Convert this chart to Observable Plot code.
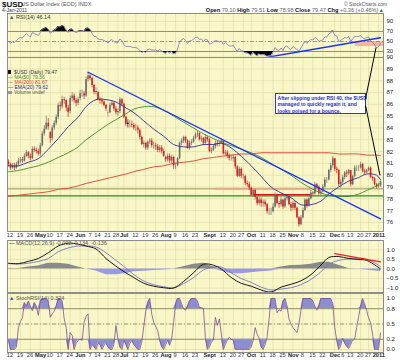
<!DOCTYPE html>
<html><head><meta charset="utf-8">
<script src="https://cdn.jsdelivr.net/npm/d3@7"></script>
<script src="https://cdn.jsdelivr.net/npm/@observablehq/plot@0.6"></script>
<style>
body{margin:0;background:#fff;font-family:"Liberation Sans",Arial,sans-serif;}
#c{position:relative;width:400px;height:360px;overflow:hidden;background:#fff;}
#c svg{position:absolute;left:0;}
.t{position:absolute;white-space:nowrap;line-height:1;}
</style></head><body><div id="c"></div><script>
// ---------------- DATA ----------------
const startDate = "2010-04-09";
const holidays = ["2010-05-31","2010-07-05","2010-09-06","2010-11-25","2010-12-24"];
// daily OHLC, one row per week
const closes = [
 80.9,
 80.6,80.8,80.6,80.9,81.2, 81.3,81.2,81.6,81.9,81.6, 81.4,82.2,82.1,82.0,81.8,
 82.5,83.5,83.9,84.4,84.1, 83.1,84.0,84.4,84.9,85.9, 85.8,86.4,86.3,85.7,85.3,
 86.5,86.7,86.3,86.1,86.4, 86.9,86.9,86.7,88.1, 88.4,88.2,87.6,87.0,87.1,
 86.4,86.3,86.2,85.9,85.6, 85.3,85.9,86.1,85.6,85.3, 85.4,86.4,86.0,84.9,84.3,
 84.3,84.3,84.2,84.0, 84.0,83.8,83.2,82.6,82.7, 82.3,82.8,82.9,82.5,82.5,
 82.4,82.1,82.3,82.0,81.6, 81.3,81.6,81.2,81.5,80.8, 80.8,81.4,82.7,82.9,83.2,
 82.9,82.3,82.7,82.8,83.1, 83.4,83.5,83.0,83.1,82.7, 83.2,83.0,82.0,82.1,82.4,
 82.7,82.6,82.7,82.9, 81.8,81.9,81.6,81.4,81.4, 81.5,80.7,79.9,80.5,79.9,
 79.9,79.3,79.2,78.9,78.3, 78.7,78.1,77.6,77.9,77.6, 77.7,77.5,76.9,76.9,76.9,
 77.3,78.3,77.6,77.5,77.9, 77.3,78.0,78.1,77.5,77.2, 77.6,77.2,76.4,75.8,76.4,
 77.0,77.9,77.4,78.0,78.5, 78.4,79.2,79.0,78.4,78.6, 79.0,79.6,79.6,80.4,
 80.8,81.4,80.5,80.4,79.2, 79.4,79.8,80.2,80.1,80.4, 79.2,79.9,80.6,80.6,80.6,
 80.9,80.3,80.2,80.4, 80.6,79.8,79.7,79.2,79.0, 79.11,79.47
];
const opens = [
 81.1,
 80.9,80.6,80.8,80.6,80.9, 81.2,81.3,81.2,81.6,81.9, 81.6,81.4,82.2,82.1,82.0,
 81.8,82.5,83.5,83.9,84.4, 83.6,83.1,84.0,84.4,84.9, 85.9,85.8,86.4,86.3,85.7,
 85.4,86.5,86.7,86.3,86.1, 86.5,86.9,86.9,86.7, 88.1,88.4,88.2,87.6,87.0,
 87.0,86.4,86.3,86.2,85.9, 85.2,85.3,85.9,86.1,85.6, 85.3,85.4,86.4,86.0,84.9,
 84.4,84.3,84.3,84.2, 84.0,84.0,83.8,83.2,82.6, 82.7,82.3,82.8,82.9,82.5,
 82.5,82.4,82.1,82.3,82.0, 81.5,81.3,81.6,81.2,81.5, 80.8,80.8,81.4,82.7,82.9,
 83.2,82.9,82.3,82.7,82.8, 83.1,83.4,83.5,83.0,83.1, 82.7,83.2,83.0,82.0,82.1,
 82.4,82.7,82.6,82.7, 82.9,81.8,81.9,81.6,81.4, 81.4,81.5,80.7,79.9,80.5,
 79.9,79.9,79.3,79.2,78.9, 78.3,78.7,78.1,77.6,77.9, 77.6,77.7,77.5,76.9,76.9,
 76.9,77.3,78.3,77.6,77.5, 77.9,77.3,78.0,78.1,77.5, 77.2,77.6,77.2,76.4,75.8,
 76.4,77.0,77.9,77.4,78.0, 78.5,78.4,79.2,79.0,78.4, 78.6,79.0,79.6,79.6,
 80.4,80.8,81.4,80.5,80.4, 79.2,79.4,79.8,80.2,80.1, 80.4,79.2,79.9,80.6,80.6,
 80.6,80.9,80.3,80.2, 80.4,80.6,79.8,79.7,79.2, 79.0,79.10
];
const highs = [
 81.3,
 81.0,81.0,81.0,81.1,81.4, 81.5,81.5,81.8,82.1,82.0, 81.8,82.4,82.4,82.3,82.2,
 82.7,83.7,84.2,85.0,84.8, 83.7,84.2,84.6,85.1,86.1, 86.2,86.7,86.6,86.4,85.9,
 86.7,87.0,86.9,86.5,86.6, 87.2,87.2,87.1,88.3, 88.7,88.5,88.3,87.7,87.4,
 87.1,86.6,86.5,86.3,86.0, 85.5,86.1,86.3,86.2,85.8, 85.6,86.6,86.5,86.1,85.0,
 84.7,84.6,84.6,84.4, 84.3,84.2,83.9,83.3,82.9, 82.8,82.9,83.1,83.1,82.8,
 82.7,82.6,82.5,82.5,82.2, 81.6,81.8,81.8,81.7,81.6, 81.0,81.5,82.8,83.1,83.3,
 83.3,83.0,82.9,83.0,83.3, 83.6,83.7,83.6,83.3,83.2, 83.4,83.3,83.1,82.3,82.6,
 82.9,82.9,82.9,83.1, 82.9,82.1,82.1,81.8,81.7, 81.7,81.6,80.8,80.7,80.6,
 80.1,80.0,79.5,79.4,79.0, 78.8,78.8,78.2,78.1,78.1, 77.9,77.9,77.6,77.2,77.2,
 77.6,78.5,78.4,77.8,78.1, 77.9,78.2,78.3,78.2,77.7, 77.8,77.8,77.3,76.5,76.6,
 77.2,78.0,78.0,78.2,78.7, 78.6,79.4,79.3,79.1,78.7, 79.2,79.8,79.8,80.5,
 81.0,81.6,81.4,80.7,80.5, 79.6,80.0,80.3,80.4,80.5, 80.4,80.0,80.8,80.8,80.8,
 81.1,81.0,80.5,80.5, 80.7,80.7,79.9,79.8,79.3, 79.3,79.51
];
const lows = [
 80.7,
 80.4,80.5,80.4,80.5,80.7, 81.0,81.0,81.1,81.5,81.4, 81.2,81.3,81.9,81.8,81.6,
 81.6,82.4,83.3,83.8,83.8, 82.7,82.9,83.8,84.2,84.7, 85.4,85.6,86.0,85.4,84.9,
 85.2,86.2,86.1,85.8,85.9, 86.3,86.6,86.4,86.6, 87.9,88.0,87.4,86.8,86.8,
 86.3,86.0,86.0,85.8,85.4, 84.9,85.2,85.8,85.4,85.1, 85.0,85.2,85.8,84.8,84.1,
 84.0,84.0,84.0,83.8, 83.7,83.5,83.0,82.5,82.3, 82.1,82.1,82.6,82.3,82.2,
 82.1,81.9,81.9,81.8,81.5, 81.1,81.1,81.0,81.0,80.5, 80.5,80.7,81.3,82.5,82.7,
 82.7,82.2,82.1,82.5,82.7, 83.0,83.2,82.9,82.8,82.5, 82.6,82.8,81.9,81.8,82.0,
 82.2,82.4,82.4,82.6, 81.7,81.6,81.4,81.2,81.2, 81.1,80.5,79.8,79.8,79.7,
 79.6,79.1,79.0,78.7,78.2, 78.1,77.9,77.4,77.4,77.3, 77.3,77.3,76.7,76.6,76.6,
 76.8,77.2,77.5,77.2,77.3, 77.1,77.2,77.8,77.4,76.9, 77.0,77.0,76.3,75.6,75.7,
 76.3,76.9,77.2,77.3,77.9, 78.2,78.3,78.8,78.3,78.2, 78.5,78.9,79.3,79.5,
 80.2,80.6,80.3,80.1,79.0, 78.9,79.2,79.6,79.8,80.0, 79.0,79.1,79.8,80.3,80.3,
 80.5,80.2,80.0,80.1, 80.3,79.7,79.5,79.1,78.8, 78.9,78.98
];
// RSI(14), daily
const rsi14 = [
 50,
 47,49,48,52,56, 58,57,62,66,62, 59,68,66,64,62, 68,74,76,78,74, 66,70,72,75,80,
 79,82,80,72,68, 74,75,70,68,70, 72,72,70,76, 77,74,66,60,60, 55,54,54,52,50,
 47,52,54,50,47, 48,55,52,44,40, 40,40,39,38, 38,36,32,28,30, 28,34,35,33,33,
 33,31,34,31,28, 26,30,27,30,25, 26,35,50,53,56, 52,46,51,52,55, 58,59,54,55,50,
 55,53,45,46,49, 52,51,49,51, 44,48,44,41,41, 42,36,30,36,31, 31,27,27,25,22,
 28,24,21,25,23, 24,23,20,21,21, 28,38,33,32,37, 32,40,41,36,34, 40,37,34,31,37,
 44,50,46,51,54, 53,58,56,50,52, 53,59,59,65, 68,71,62,61,50, 52,55,58,57,60,
 50,55,60,60,60, 62,57,56,58, 59,52,48,44,37, 40,46.14
];
// StochRSI(14), daily
const stochRsi = [
 0.18,0.0,0.0,0.0,0.05,0.43,0.55,0.62,0.92,0.85,
 0.95,0.85,0.76,0.92,0.85,0.67,0.95,1,1,1,
 0.95,0.63,0.7,0.75,0.85,1,1,0.95,0.6,0.43,
 0.0,0.33,0.28,0.0,0.12,0.18,0.2,0.18,0.53,0.65,
 0.7,0.0,0.1,0.05,0.0,0.12,0.1,0.0,0.08,0.12,
 0.05,0.0,0.0,0.1,0.47,0.2,0.05,0.0,0.18,0.1,
 0.0,0.12,0.18,0.1,0.05,0.0,0.0,0.15,0.45,0.75,
 0.92,1.0,0.7,0.53,0.45,0.37,0.18,0.05,0.0,0.1,
 0.18,0.08,0.2,0.53,0.9,1.0,1.0,0.9,0.8,0.77,
 0.85,0.95,1.0,1.0,1.0,0.95,0.82,0.82,0.8,0.22,
 0.0,0.05,0.15,0.18,0.63,0.47,0.6,0.3,0.0,0.1,
 0.18,0.24,0.2,0.18,0.0,0.0,0.0,0.0,0.0,0.0,
 0.0,0.0,0.05,0.18,0.43,0.3,0.22,0.05,0.0,0.1,
 0.24,0.6,1.0,1.0,1.0,0.72,0.78,0.75,0.95,1.0,
 0.85,0.6,0.5,0.43,0.38,0.33,0.5,0.77,1.0,1.0,
 1.0,1.0,1.0,0.95,0.85,0.77,0.85,1.0,1.0,1.0,
 1.0,1.0,1.0,0.9,0.43,0.18,0.0,0.08,0.22,0.12,
 0.06,0.02,0.1,0.18,0.2,0.43,0.65,0.85,1.0,0.9,
 0.77,0.62,0.53,0.3,0.0,0.0,0.0,0.324
];
// weekly (last trading day of each week)
const ema20 = [80.8,80.8,81.1,81.4,82.2,83.1,84.1,84.9,85.8,86.4,86.4,86.2,85.7,85.3,84.6,83.9,83.3,82.6,82.4,82.4,
 82.6,82.6,82.7,82.3,81.6,80.8,79.9,79.0,78.5,78.1,77.5,77.5,77.8,78.4,79.0,79.5,79.8,80.1,80.0,79.62];
const ma50 = [80.3,80.4,80.6,80.8,81.1,81.5,81.9,82.4,83.0,83.6,84.2,84.7,85.2,85.6,85.8,85.8,85.5,85.0,84.5,84.0,
 83.5,83.1,82.8,82.5,82.2,81.9,81.5,81.0,80.5,80.0,79.4,78.9,78.5,78.3,78.2,78.2,78.4,78.7,79.1,79.36];
const ma200 = [78.2,78.3,78.4,78.5,78.6,78.8,78.9,79.1,79.3,79.5,79.7,79.9,80.1,80.3,80.5,80.7,80.8,81.0,81.1,81.2,
 81.4,81.5,81.6,81.7,81.8,81.8,81.9,81.9,81.9,81.9,81.9,81.9,81.9,81.9,81.8,81.8,81.8,81.7,81.7,81.67];
const macdLine = [0.30,0.28,0.40,0.55,0.85,1.20,1.35,1.30,1.20,1.05,0.55,0.15,-0.20,-0.45,-0.75,-0.90,-0.98,-1.00,-0.65,-0.20,
 0.25,0.20,0.00,-0.45,-0.75,-0.90,-1.10,-1.20,-0.95,-0.80,-0.62,-0.30,0.20,0.60,0.65,0.55,0.50,0.45,0.15,-0.002];
const macdSignal = [0.28,0.26,0.30,0.40,0.55,0.90,1.10,1.20,1.20,1.15,0.85,0.45,0.05,-0.30,-0.63,-0.82,-0.93,-0.98,-0.77,-0.45,
 -0.05,0.10,0.10,-0.20,-0.50,-0.70,-0.95,-1.10,-1.05,-0.98,-0.82,-0.55,-0.15,0.25,0.45,0.52,0.52,0.50,0.27,0.134];
const macdHist = [0.02,0.02,0.10,0.15,0.30,0.30,0.25,0.10,0.00,-0.10,-0.30,-0.30,-0.25,-0.15,-0.12,-0.08,-0.05,-0.02,0.12,0.25,
 0.30,0.10,-0.10,-0.25,-0.25,-0.20,-0.15,-0.10,0.10,0.18,0.20,0.25,0.35,0.35,0.20,0.03,-0.02,-0.05,-0.12,-0.136];
// annotations (date, value)
const priceTrend = [["2010-06-07",88.72],["2011-01-04",76.3]];
const rsiTrend = [["2010-10-14",19],["2011-01-04",57.5]];
const macdTrend = [["2010-12-01",0.8],["2011-01-04",0.37]];
const greenLevel = 78.25, oliveLevel = 78.85;
const pinkSeg = [["2010-09-07",78.85],["2010-11-15",78.85]];
const redSeg = [["2010-10-04",78.35],["2010-11-12",78.35]];
const rsiZone = {from:"2010-12-16", lo:40, hi:50};
const calloutAt = ["2010-10-19", 86.95];
const pointerRsi = ["2010-12-31", 37];
const pointerPrice = ["2011-01-04", 79.95];
const calloutText = ["After slipping under RSI 40, the $USD","managed to quickly regain it, and","looks poised for a bounce."];
// ticks
const tickDates = ["2010-04-12","2010-04-19","2010-04-26","2010-05-03","2010-05-10","2010-05-17","2010-05-24","2010-06-01","2010-06-07","2010-06-14","2010-06-21","2010-06-28","2010-07-01","2010-07-12","2010-07-19","2010-07-26","2010-08-02","2010-08-09","2010-08-16","2010-08-23","2010-09-01","2010-09-13","2010-09-20","2010-09-27","2010-10-01","2010-10-11","2010-10-18","2010-10-25","2010-11-01","2010-11-08","2010-11-15","2010-11-22","2010-12-01","2010-12-06","2010-12-13","2010-12-20","2010-12-27","2011-01-03"];
const tickLabels = ["12","19","26","May","10","17","24","Jun","7","14","21","28","Jul","12","19","26","Aug","9","16","23","Sept","13","20","27","Oct","11","18","25","Nov","8","15","22","Dec","6","13","20","27","2011"];
const boldLabels = ["May","Jun","Jul","Aug","Sept","Oct","Nov","Dec","2011"];
const priceTicks = [76,77,78,79,80,81,82,83,84,85,86,87,88,89,90];
const rsiTicks = [30,50,70,90];
const macdTicks = [-1.0,-0.5,0.0,0.5,1.0];
const stochTicks = [0.0,0.2,0.5,0.8,1.0];

// ---------------- BUILD ----------------
const N = closes.length;
const dates = [];
{ let t = Date.parse(startDate + "T00:00:00Z");
  while (dates.length < N) { const d = new Date(t); const w = d.getUTCDay(); const s = d.toISOString().slice(0,10);
    if (w !== 0 && w !== 6 && !holidays.includes(s)) dates.push(s); t += 86400000; } }
const dow = s => new Date(s + "T00:00:00Z").getUTCDay();
const idx = s => dates.indexOf(s);
const weekEnds = [];
for (let i = 0; i < N; i++) if (i === N - 1 || dow(dates[i+1]) <= dow(dates[i])) weekEnds.push(i);

const candles = closes.map((c,i) => {
  const up = i === 0 ? c >= opens[i] : c >= closes[i-1];
  const filled = c < opens[i];
  return {i, o: opens[i], h: highs[i], l: lows[i], c,
    col: up ? (filled ? "#111" : "#6b6b6b") : (filled ? "#e41a1c" : "#f07b7b")};
});
const wk = (arr) => arr.map((v,k) => ({i: weekEnds[k], v}));
const rsiRows = rsi14.map((v,i) => ({i, v}));
const stRows = stochRsi.map((v,i) => ({i, v}));
const ticks = tickDates.map((d,k) => ({i: idx(d), label: tickLabels[k], bold: boldLabels.includes(tickLabels[k])}));
// labels crowded against a month label are nudged away from it
ticks.forEach((t,k) => {
  t.nudge = 0;
  if (t.bold) return;
  const p = ticks[k-1], n = ticks[k+1];
  if (p && p.bold && t.i - p.i <= 4) t.nudge = 1;
  if (n && n.bold && n.i - t.i <= 4) t.nudge = -1;
});
const tickIdx = ticks.map(t => t.i);
const seg = s => s.map(([d,v]) => ({i: idx(d), v}));

const BG = "#f9f7c8", GRID = "#dcdaa3", FRAME = "#8c8c8c", REF = "#8a8a60";
const FONT = "Liberation Sans, Arial, sans-serif";
const xOpt = {domain: [-0.5, N + 0.5], axis: null};
const base = {width: 400, marginLeft: 7, marginRight: 17, marginTop: 0,
  style: {background: "transparent", overflow: "visible", fontFamily: FONT, color: "#222"}};
const yAxis = (t, fmt) => Plot.axisY(t, {anchor: "right", tickSize: 0, tickPadding: 3, fontSize: 6, tickFormat: fmt, label: null});
const grid = (t) => [Plot.ruleX(tickIdx, {stroke: GRID, strokeWidth: 0.6}), Plot.ruleY(t, {stroke: GRID, strokeWidth: 0.6})];
const xLabels = (dy) => [
  Plot.text(ticks.filter(t => !t.bold && t.nudge === 0), {x: "i", text: "label", frameAnchor: "bottom", dy, dx: -0.5, fontSize: 5.7, fill: "#333"}),
  Plot.text(ticks.filter(t => t.nudge === 1), {x: "i", text: "label", frameAnchor: "bottom", dy, dx: 2, fontSize: 5.7, fill: "#333"}),
  Plot.text(ticks.filter(t => t.nudge === -1), {x: "i", text: "label", frameAnchor: "bottom", dy, dx: -2, fontSize: 5.7, fill: "#333"}),
  Plot.text(ticks.filter(t => t.bold), {x: "i", text: "label", frameAnchor: "bottom", dy, dx: 0.3, fontSize: 5.7, fontWeight: "bold", fill: "#222"})
];

const RSI_TOP = 13, PRICE_TOP = 57, MACD_TOP = 240, ST_TOP = 293;
const rsiPlot = Plot.plot({...base, height: 44, marginBottom: 0,
  x: xOpt, y: {domain: [18, 106]},
  marks: [
    Plot.frame({fill: BG}),
    ...grid(rsiTicks),
    Plot.rect([rsiZone], {x1: d => idx(d.from) - 0.5, x2: N + 0.5, y1: "lo", y2: "hi", fill: "#f6b49c"}),
    Plot.ruleY([70, 30], {stroke: REF, strokeWidth: 0.9}),
    Plot.ruleY([50], {stroke: REF, strokeWidth: 0.8, strokeDasharray: "4,2,1,2"}),
    Plot.areaY(rsiRows, {x: "i", y1: 70, y2: d => Math.max(d.v, 70), fill: "#000"}),
    Plot.areaY(rsiRows, {x: "i", y1: 30, y2: d => Math.min(d.v, 30), fill: "#000"}),
    Plot.line(rsiRows, {x: "i", y: "v", stroke: "#7b70c0", strokeWidth: 0.8}),
    Plot.line(seg(rsiTrend), {x: "i", y: "v", stroke: "#1533ff", strokeWidth: 1.3, clip: true}),
    yAxis(rsiTicks),
    Plot.frame({stroke: FRAME})
  ]});

const pricePlot = Plot.plot({...base, height: 183, marginBottom: 9,
  x: xOpt, y: {domain: [75.23, 89.97]},
  marks: [
    Plot.frame({fill: BG}),
    ...grid(priceTicks),
    Plot.ruleY([oliveLevel], {stroke: "#9c9c5c", strokeWidth: 1.4, strokeOpacity: 0.7}),
    Plot.line(seg(pinkSeg), {x: "i", y: "v", stroke: "#f3a083", strokeWidth: 2.2, strokeOpacity: 0.8}),
    Plot.ruleY([greenLevel], {stroke: "#2f8a1f", strokeWidth: 1.4}),
    Plot.line(seg(redSeg), {x: "i", y: "v", stroke: "#e01010", strokeWidth: 1.1}),
    Plot.line(wk(ma200), {x: "i", y: "v", stroke: "#e83a30", strokeWidth: 0.9, curve: "catmull-rom"}),
    Plot.ruleX(candles, {x: "i", y1: "l", y2: "h", stroke: "col", strokeWidth: 0.7}),
    Plot.ruleX(candles, {x: "i", y1: "o", y2: "c", stroke: "col", strokeWidth: 1.6}),
    Plot.line(wk(ma50), {x: "i", y: "v", stroke: "#3a8a2a", strokeWidth: 0.9, curve: "catmull-rom"}),
    Plot.line(wk(ema20), {x: "i", y: "v", stroke: "#2b2b98", strokeWidth: 0.9, curve: "catmull-rom"}),
    Plot.line(seg(priceTrend), {x: "i", y: "v", stroke: "#1533ff", strokeWidth: 1.3}),
    yAxis(priceTicks),
    ...xLabels(5),
    Plot.frame({stroke: FRAME})
  ]});

const macdPlot = Plot.plot({...base, height: 52, marginBottom: 0,
  x: xOpt, y: {domain: [-1.23, 1.49]},
  marks: [
    Plot.frame({fill: BG}),
    ...grid(macdTicks),
    Plot.areaY(wk(macdHist), {x: "i", y1: 0, y2: d => Math.max(d.v, 0), fill: "#8a8a8a"}),
    Plot.areaY(wk(macdHist), {x: "i", y1: 0, y2: d => Math.min(d.v, 0), fill: "#9a9ae0"}),
    Plot.line(wk(macdSignal), {x: "i", y: "v", stroke: "#7474cc", strokeWidth: 0.9, curve: "catmull-rom"}),
    Plot.line(wk(macdLine), {x: "i", y: "v", stroke: "#000", strokeWidth: 0.9, curve: "catmull-rom"}),
    Plot.line(seg(macdTrend), {x: "i", y: "v", stroke: "#ff1a1a", strokeWidth: 1.2}),
    yAxis(macdTicks, d3.format(".1f")),
    Plot.frame({stroke: FRAME})
  ]});

const stPlot = Plot.plot({...base, height: 67, marginBottom: 8,
  x: xOpt, y: {domain: [-0.059, 1.098]},
  marks: [
    Plot.frame({fill: BG}),
    ...grid(stochTicks),
    Plot.ruleY([0.8, 0.2], {stroke: REF, strokeWidth: 0.9}),
    Plot.ruleY([0.5], {stroke: REF, strokeWidth: 0.8, strokeDasharray: "4,2,1,2"}),
    Plot.areaY(stRows, {x: "i", y1: 0.8, y2: d => Math.max(d.v, 0.8), fill: "#8d8dd2"}),
    Plot.areaY(stRows, {x: "i", y1: 0.2, y2: d => Math.min(d.v, 0.2), fill: "#8d8dd2"}),
    Plot.line(stRows, {x: "i", y: "v", stroke: "#7d4c97", strokeWidth: 0.8}),
    yAxis(stochTicks, d3.format(".1f")),
    ...xLabels(4.5),
    Plot.frame({stroke: FRAME})
  ]});

const C = document.getElementById("c");
[[rsiPlot, RSI_TOP], [pricePlot, PRICE_TOP], [macdPlot, MACD_TOP], [stPlot, ST_TOP]].forEach(([p, top]) => {
  p.style.position = "absolute"; p.style.top = top + "px"; p.style.left = "0px"; C.appendChild(p);
});

function txt(html, x, y, css) {
  const d = document.createElement("div"); d.className = "t"; d.innerHTML = html;
  d.style.left = x + "px"; d.style.top = y + "px"; d.style.cssText += css || ""; C.appendChild(d); return d;
}
// header
txt("$USD", 2, 0.5, "font-size:8px;font-weight:bold;color:#111;");
txt("US Dollar Index (EOD) INDX", 21, 2, "font-size:5.5px;color:#555;");
txt("4-Jan-2011", 2, 8, "font-size:5px;color:#333;");
txt("© StockCharts.com", 344, 1.5, "font-size:5px;color:#555;");
const hdr = txt("<b>Open</b> <span style='color:#666'>79.10</span> <b>High</b> <span style='color:#666'>79.51</span> <b>Low</b> <span style='color:#666'>78.98</span> <b>Close</b> <span style='color:#666'>79.47</span> <b>Chg</b> <span style='color:#666'>+0.36 (+0.46%)</span><span style='color:#2a9a2a'>▲</span>",
  0, 7.5, "font-size:5.6px;color:#111;");
hdr.style.left = ""; hdr.style.right = "16px";
// panel legends
txt("<span style='color:#5050a8'>▲</span> RSI(14) 46.14", 9, 15, "font-size:5.5px;color:#333;");
txt("<span style='display:inline-block;width:3px;height:4px;background:#111;margin-right:3px'></span>$USD (Daily) 79.47", 8, 70, "font-size:5px;color:#333;");
txt("<span style='color:#3a8a2a'>—</span> MA(50) 79.36", 8, 75, "font-size:5px;color:#3a8a2a;");
txt("<span style='color:#e83a30'>—</span> MA(200) 81.67", 8, 80, "font-size:5px;color:#e83a30;");
txt("<span style='color:#2b2b98'>—</span> EMA(20) 79.62", 8, 85, "font-size:5px;color:#2b2b98;");
txt("<span style='display:inline-block;width:4px;height:3px;background:#999;margin-right:2px'></span>Volume undef", 8, 90, "font-size:5px;color:#555;");
txt("<span style='color:#000'>—</span> MACD(12,26,9) -0.002, 0.134, -0.136", 9, 241, "font-size:5.5px;color:#555;");
txt("<span style='color:#5050a8'>▲</span> StochRSI(14) 0.324", 9, 296, "font-size:5.5px;color:#555;");

// callout box, placed with the price scales
const xs = pricePlot.scale("x"), yp = pricePlot.scale("y"), yr = rsiPlot.scale("y");
const bx = xs.apply(idx(calloutAt[0])), by = PRICE_TOP + yp.apply(calloutAt[1]);
const bw = 91, bh = 21;
const box = txt(calloutText.join("<br>"), bx, by,
  `width:${bw - 4}px;height:${bh - 3}px;background:#fff;border:1px solid #2a3ad0;padding:1.5px 0 0 2px;font-size:5px;line-height:6.3px;font-weight:bold;color:#1f2fc0;`);
// pointer lines
const svg = d3.select(C).append("svg").attr("width", 400).attr("height", 360).style("top", "0px").style("pointer-events", "none");
const rx = bx + bw;
const pR = [xs.apply(idx(pointerRsi[0])), RSI_TOP + yr.apply(pointerRsi[1])];
const pP = [xs.apply(idx(pointerPrice[0])), PRICE_TOP + yp.apply(pointerPrice[1])];
svg.append("path").attr("d", `M${pR[0]},${pR[1]}L${rx},${by + 6}M${rx},${by + 13}L${pP[0]},${pP[1]}`)
  .attr("stroke", "#000").attr("stroke-width", 1).attr("fill", "none");
</script></body></html>
